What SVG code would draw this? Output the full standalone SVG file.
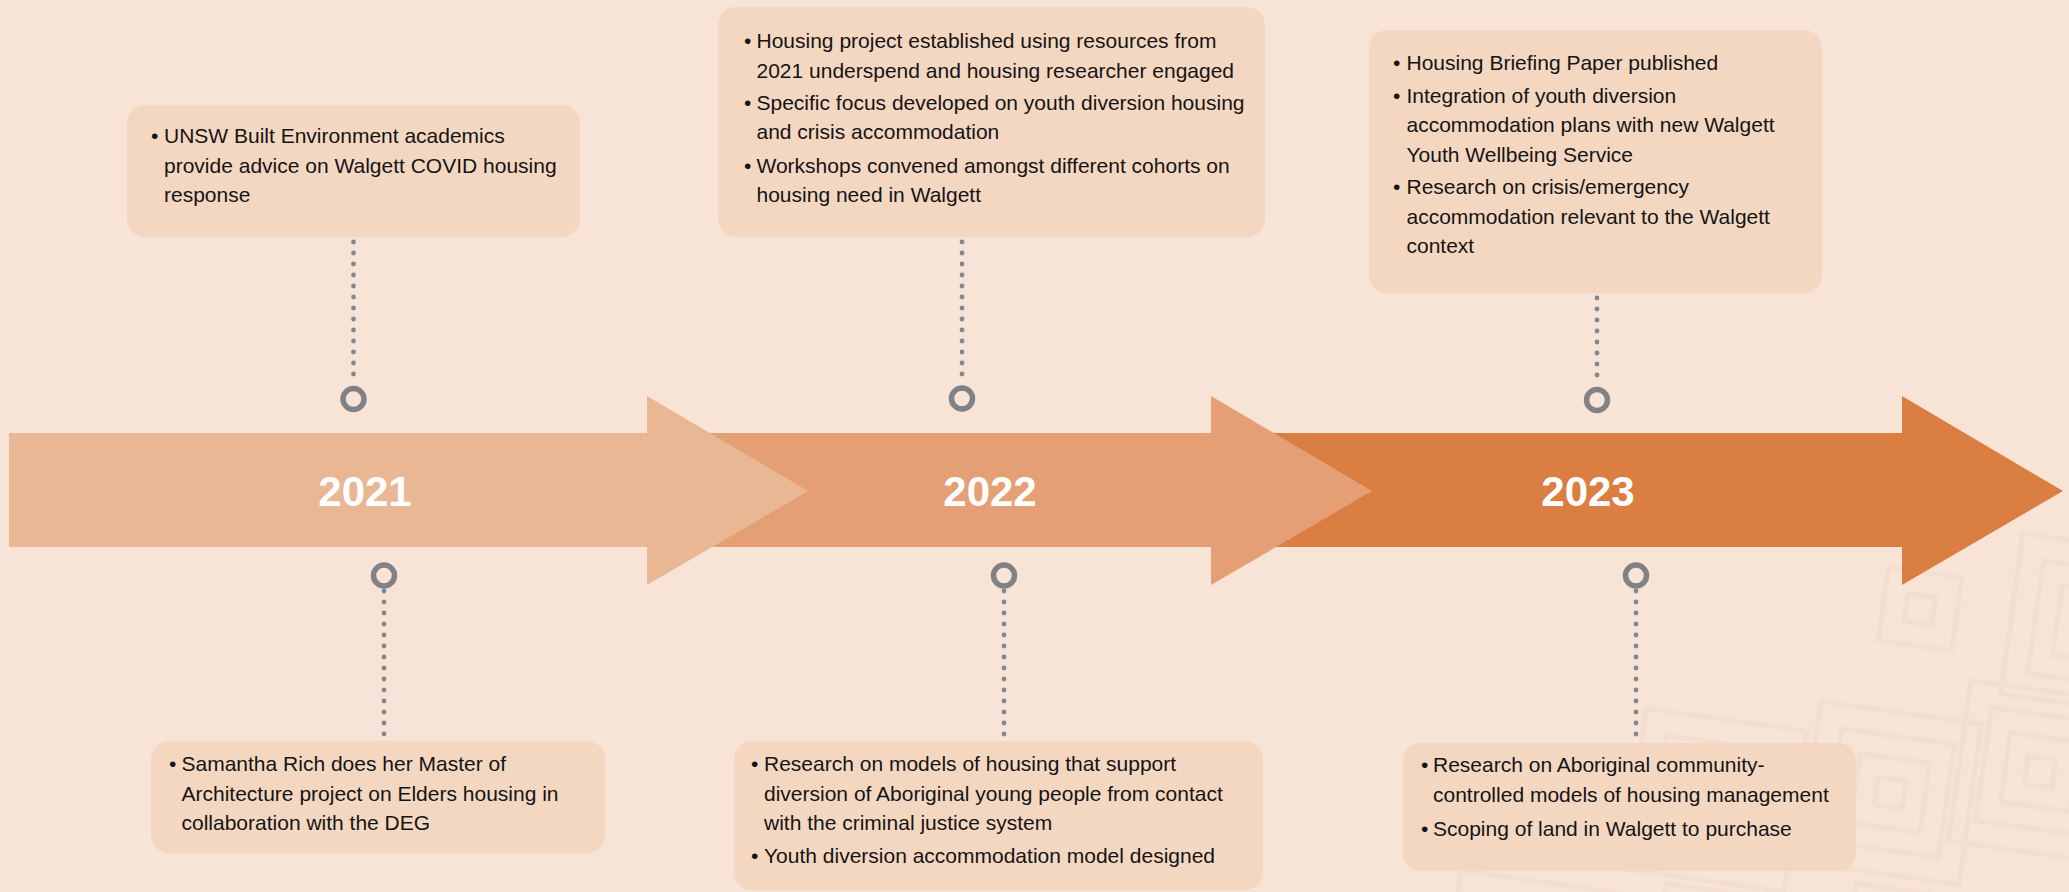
<svg xmlns="http://www.w3.org/2000/svg" xmlns:xlink="http://www.w3.org/1999/xlink" width="2069" height="892" viewBox="0 0 2069 892">
<style>
.bg{fill:#F7E4D7}
.box{fill:#F4D7C1}
.t{font-family:"Liberation Sans",Arial,sans-serif;font-size:21px;fill:#141414}
.yr{font-family:"Liberation Sans",Arial,sans-serif;font-size:42px;font-weight:bold;fill:#ffffff;text-anchor:middle}
.dots{stroke:#84878B;stroke-width:4.8;stroke-linecap:round;stroke-dasharray:0 11;fill:none}
.ring{fill:none;stroke:#808285;stroke-width:5.5}
</style>
<defs>
<g id="motif" fill="none" stroke="#F3DECF" stroke-width="5">
<rect x="-81" y="-81" width="162" height="162"/>
<rect x="-57" y="-57" width="114" height="114"/>
<rect x="-35" y="-35" width="70" height="70"/>
<rect x="-14" y="-14" width="28" height="28"/>
</g>
</defs>
<rect class="bg" x="0" y="0" width="2069" height="892"/>
<g id="pattern" fill="none" stroke="#F3DECF" stroke-width="5">
<g transform="translate(1920,609) rotate(8)"><rect x="-37" y="-37" width="74" height="74"/><rect x="-14" y="-14" width="28" height="28"/></g>
<use xlink:href="#motif" transform="translate(1890,793) rotate(8)"/>
<use xlink:href="#motif" transform="translate(2040,772) rotate(8)"/>
<use xlink:href="#motif" transform="translate(1715,800) rotate(8)"/>
<use xlink:href="#motif" transform="translate(2092,625) rotate(8)"/>
<use xlink:href="#motif" transform="translate(1530,962) rotate(8)"/>
<use xlink:href="#motif" transform="translate(1735,975) rotate(8)"/>
<use xlink:href="#motif" transform="translate(1925,975) rotate(8)"/>
</g>
<g id="timeline">
<polygon id="arrow3" points="1200,433 1902,433 1902,396 2063,491 1902,585 1902,547 1200,547" fill="#DA7E41"/>
<polygon id="arrow2" points="640,433 1211,433 1211,396 1372,491 1211,585 1211,547 640,547" fill="#E4A074"/>
<polygon id="arrow1" points="9,433 647,433 647,396 808,491 647,585 647,547 9,547" fill="#EAB794"/>
<text class="yr" x="365" y="506">2021</text>
<text class="yr" x="990" y="506">2022</text>
<text class="yr" x="1588" y="506">2023</text>
</g>
<g id="connectors">
<line class="dots" x1="353.5" y1="242" x2="353.5" y2="384"/>
<line class="dots" x1="962" y1="242" x2="962" y2="384"/>
<line class="dots" x1="1597" y1="298" x2="1597" y2="385"/>
<line class="dots" x1="384" y1="591" x2="384" y2="737"/>
<line class="dots" x1="1004" y1="591" x2="1004" y2="737"/>
<line class="dots" x1="1636" y1="591" x2="1636" y2="737"/>
<circle class="ring" cx="353.5" cy="399" r="10.5"/>
<circle class="ring" cx="962" cy="398.5" r="10.5"/>
<circle class="ring" cx="1597" cy="400" r="10.5"/>
<circle class="ring" cx="384" cy="575.5" r="10.5"/>
<circle class="ring" cx="1004" cy="575.5" r="10.5"/>
<circle class="ring" cx="1636" cy="575.5" r="10.5"/>
</g>
<g id="box-2021-top">
<rect class="box" x="127" y="105" width="453" height="132" rx="18"/>
<text class="t" x="151" y="143">•</text>
<text class="t" x="164" y="143">UNSW Built Environment academics</text>
<text class="t" x="164" y="172.5">provide advice on Walgett COVID housing</text>
<text class="t" x="164" y="202">response</text>
</g>
<g id="box-2022-top">
<rect class="box" x="718" y="7" width="547" height="230" rx="18"/>
<text class="t" x="744" y="48">•</text>
<text class="t" x="756.5" y="48">Housing project established using resources from</text>
<text class="t" x="756.5" y="77.5">2021 underspend and housing researcher engaged</text>
<text class="t" x="744" y="110">•</text>
<text class="t" x="756.5" y="110">Specific focus developed on youth diversion housing</text>
<text class="t" x="756.5" y="139">and crisis accommodation</text>
<text class="t" x="744" y="172.5">•</text>
<text class="t" x="756.5" y="172.5">Workshops convened amongst different cohorts on</text>
<text class="t" x="756.5" y="202">housing need in Walgett</text>
</g>
<g id="box-2023-top">
<rect class="box" x="1369" y="30" width="453" height="263" rx="18"/>
<text class="t" x="1393" y="70">•</text>
<text class="t" x="1406.5" y="70">Housing Briefing Paper published</text>
<text class="t" x="1393" y="102.5">•</text>
<text class="t" x="1406.5" y="102.5">Integration of youth diversion</text>
<text class="t" x="1406.5" y="132">accommodation plans with new Walgett</text>
<text class="t" x="1406.5" y="161.5">Youth Wellbeing Service</text>
<text class="t" x="1393" y="194">•</text>
<text class="t" x="1406.5" y="194">Research on crisis/emergency</text>
<text class="t" x="1406.5" y="223.5">accommodation relevant to the Walgett</text>
<text class="t" x="1406.5" y="253">context</text>
</g>
<g id="box-2021-bottom">
<rect class="box" x="151" y="741" width="454" height="112" rx="18"/>
<text class="t" x="169" y="771">•</text>
<text class="t" x="181.5" y="771">Samantha Rich does her Master of</text>
<text class="t" x="181.5" y="800.5">Architecture project on Elders housing in</text>
<text class="t" x="181.5" y="829.5">collaboration with the DEG</text>
</g>
<g id="box-2022-bottom">
<rect class="box" x="734" y="741" width="529" height="149" rx="18"/>
<text class="t" x="751" y="771">•</text>
<text class="t" x="764" y="771">Research on models of housing that support</text>
<text class="t" x="764" y="800.5">diversion of Aboriginal young people from contact</text>
<text class="t" x="764" y="829.5">with the criminal justice system</text>
<text class="t" x="751" y="862.5">•</text>
<text class="t" x="764" y="862.5">Youth diversion accommodation model designed</text>
</g>
<g id="box-2023-bottom">
<rect class="box" x="1403" y="743" width="453" height="128" rx="18"/>
<text class="t" x="1421" y="772">•</text>
<text class="t" x="1433" y="772">Research on Aboriginal community-</text>
<text class="t" x="1433" y="801.5">controlled models of housing management</text>
<text class="t" x="1421" y="836">•</text>
<text class="t" x="1433" y="836">Scoping of land in Walgett to purchase</text>
</g>
</svg>
